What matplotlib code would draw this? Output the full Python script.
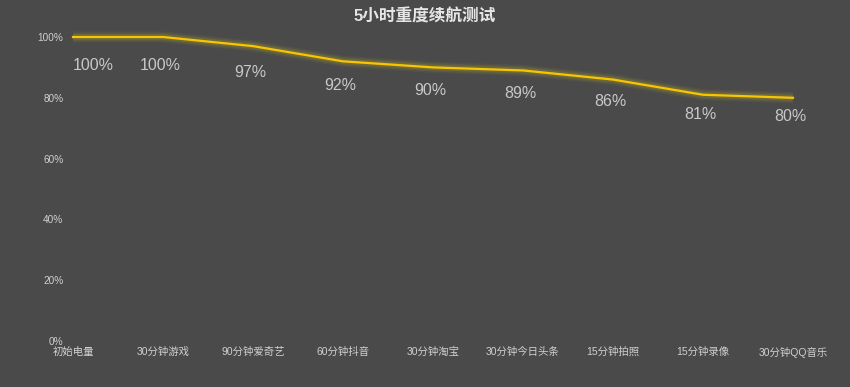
import matplotlib.pyplot as plt

plt.rcParams['font.family'] = ['Liberation Sans', 'Noto Sans CJK SC', 'DejaVu Sans']

categories = ['初始电量', '30分钟游戏', '90分钟爱奇艺', '60分钟抖音', '30分钟淘宝',
              '30分钟今日头条', '15分钟拍照', '15分钟录像', '30分钟QQ音乐']
battery = [100, 100, 97, 92, 90, 89, 86, 81, 80]
yticks = [0, 20, 40, 60, 80, 100]

bg = '#4a4a4a'
fig = plt.figure(figsize=(8.5, 3.87), dpi=100, facecolor=bg)
ax = fig.add_axes([73 / 850, 1 - 341 / 387, 720 / 850, 304 / 387])
ax.set_facecolor(bg)

x = list(range(len(categories)))

# soft glow under the line
for lw, a in [(8, 0.07), (6, 0.1), (4, 0.16)]:
    ax.plot(x, battery, color='#c8b428', lw=lw, alpha=a, solid_capstyle='butt', clip_on=False)
ax.plot(x, battery, color='#f7c600', lw=1.6, clip_on=False)

for i, v in enumerate(battery):
    # labels sit a bit closer to the line as the values drop
    dy = -(28 - 0.456 * (100 - v))
    if i == 0:
        ax.annotate(f'{v}%', (i, v), xytext=(0, dy), textcoords='offset pixels',
                    ha='left', va='center', fontsize=11.5, color='#c8c8c8')
    else:
        ax.annotate(f'{v}%', (i, v), xytext=(-3, dy), textcoords='offset pixels',
                    ha='center', va='center', fontsize=11.5, color='#c8c8c8')

ax.set_xlim(0, len(categories) - 1)
ax.set_ylim(0, 100)
ax.set_xticks(x)
ax.set_xticklabels(categories, fontsize=7.5, color='#d0d0d0')
ax.set_yticks(yticks)
ax.set_yticklabels([f'{t}%' for t in yticks], fontsize=7.2, color='#d0d0d0')
ax.tick_params(length=0, axis='x', pad=4)
ax.tick_params(length=0, axis='y', pad=7)
for s in ax.spines.values():
    s.set_visible(False)

fig.text(0.5, 1 - 16 / 387, '5小时重度续航测试', ha='center', va='center',
         fontsize=12, fontweight='bold', color='#e6e6e6')

fig.savefig('out.png', dpi=100, facecolor=bg)
